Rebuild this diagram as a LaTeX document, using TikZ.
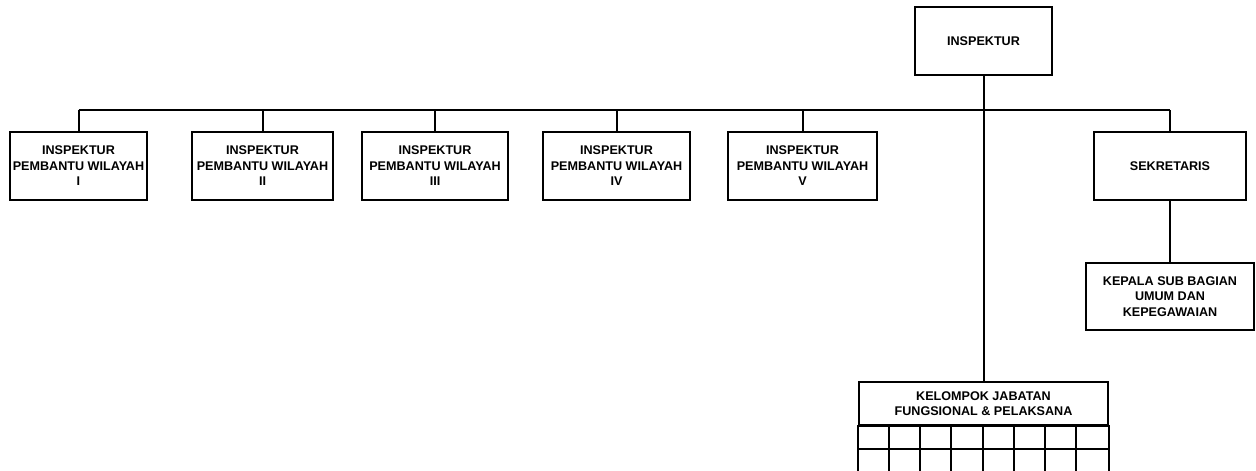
\documentclass[tikz,border=0pt]{standalone}
\usepackage{fontspec}
\setmainfont{Liberation Sans}
\begin{document}
\begin{tikzpicture}[x=1pt,y=-1pt,
  unit/.style={draw, line width=2pt, align=center, inner sep=0pt,
    font=\bfseries\fontsize{12.6}{15.5}\selectfont},
  link/.style={line width=2pt}]
\useasboundingbox (0,0) rectangle (1256,471);

% head of the office
\node[unit, minimum width=137, minimum height=68] (top) at (983.5,41) {INSPEKTUR};

% regional assistant inspectors
\node[unit, minimum width=137, minimum height=68] (w1) at (78.5,166) {INSPEKTUR\\PEMBANTU WILAYAH\\I};
\node[unit, minimum width=141, minimum height=68] (w2) at (262.5,166) {INSPEKTUR\\PEMBANTU WILAYAH\\II};
\node[unit, minimum width=146, minimum height=68] (w3) at (435,166) {INSPEKTUR\\PEMBANTU WILAYAH\\III};
\node[unit, minimum width=147, minimum height=68] (w4) at (616.5,166) {INSPEKTUR\\PEMBANTU WILAYAH\\IV};
\node[unit, minimum width=149, minimum height=68] (w5) at (802.5,166) {INSPEKTUR\\PEMBANTU WILAYAH\\V};

% secretariat
\node[unit, minimum width=152, minimum height=68] (sek) at (1170,166) {SEKRETARIS};
\node[unit, minimum width=168, minimum height=67] (kep) at (1170,296.5) {KEPALA SUB BAGIAN\\UMUM DAN\\KEPEGAWAIAN};

% functional group with its staff grid
\node[unit, minimum width=249, minimum height=43] (kel) at (983.5,403.5) {KELOMPOK JABATAN\\FUNGSIONAL \& PELAKSANA};
\draw[link] (kel.south west) rectangle ([yshift=-48]kel.south east);
\draw[link] ([yshift=-23]kel.south west) -- ([yshift=-23]kel.south east);
\foreach \i in {1,...,7}
  \draw[link] ([xshift=\i*31.125]kel.south west) -- ([xshift=\i*31.125, yshift=-48]kel.south west);

% connectors
\coordinate (bus) at (0,110);
\draw[link] (w1.north |- bus) -- (sek.north |- bus);
\foreach \n in {w1,w2,w3,w4,w5,sek}
  \draw[link] (\n.north) -- (\n.north |- bus);
\draw[link] (top.south) -- (kel.north);
\draw[link] (sek.south) -- (kep.north);
\end{tikzpicture}
\end{document}
